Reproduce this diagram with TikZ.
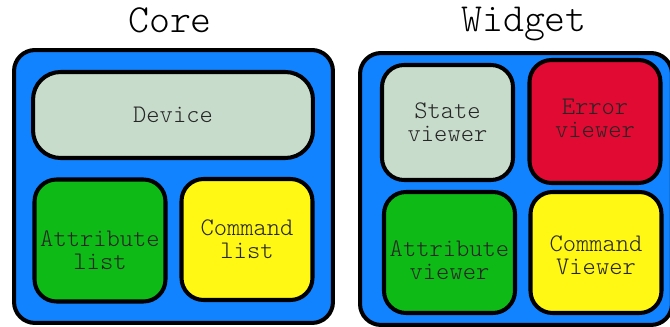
\documentclass[tikz,border=0pt]{standalone}
\usepackage{fontspec}
\setmonofont{Latin Modern Mono Light}
\usetikzlibrary{positioning}
\definecolor{panelblue}{HTML}{1283FF}
\definecolor{greygreen}{HTML}{C8DCCB}
\definecolor{okgreen}{HTML}{0EBA16}
\definecolor{cmdyellow}{HTML}{FFF714}
\definecolor{errred}{HTML}{E10A32}
\tikzset{
        panel/.style = {draw, line width=2.3pt, rounded corners=0.42cm,
            fill=panelblue},
        block/.style = {draw, line width=2.3pt, rounded corners=0.44cm,
            minimum width=2.62cm, minimum height=2.44cm},
        blocktext/.style = {align=center, text=black!85,
            font=\ttfamily\fontsize{14.4}{13.2}\selectfont},
        heading/.style = {font=\ttfamily\fontsize{22.7}{27}\selectfont},
    }

\begin{document}
\begin{tikzpicture}[x=0.02cm,y=-0.02cm]
        \useasboundingbox (0,0) rectangle (670,327);

        % Core
        \node[heading] (coret) at (170,20) {Core};
        \node[panel, minimum width=6.38cm, minimum height=5.46cm] (core) at (173.5,186.5) {};
        \node[block, fill=greygreen, minimum width=5.6cm, minimum height=1.72cm,
            rounded corners=0.55cm,
            label={[blocktext]center:Device}] (device) at (173,115) {};
        \node[block, fill=okgreen,
            label={[blocktext, yshift=-0.19cm]center:Attribute\\list}] (attrlist) at (100,240.5) {};
        \node[block, fill=cmdyellow, minimum height=2.42cm,
            label={[blocktext]center:Command\\list}] (cmdlist) at (247,239.5) {};

        % Widget
        \node[heading] (widgett) at (524,24) {Widget};
        \node[panel, minimum width=6.24cm, minimum height=5.44cm] (widget) at (516,189) {};
        \node[block, fill=greygreen, minimum height=2.3cm,
            label={[blocktext]center:State\\viewer}] (stateview) at (447.5,122.5) {};
        \node[block, fill=errred, minimum height=2.46cm,
            label={[blocktext, yshift=0.07cm]center:Error\\viewer}] (errview) at (595,121.5) {};
        \node[block, fill=okgreen, minimum height=2.42cm,
            label={[blocktext, yshift=-0.15cm]center:Attribute\\viewer}] (attrview) at (449.5,252.5) {};
        \node[block, fill=cmdyellow, minimum height=2.42cm,
            label={[blocktext, yshift=-0.05cm]center:Command\\Viewer}] (cmdview) at (596,252.5) {};
\end{tikzpicture}
\end{document}
